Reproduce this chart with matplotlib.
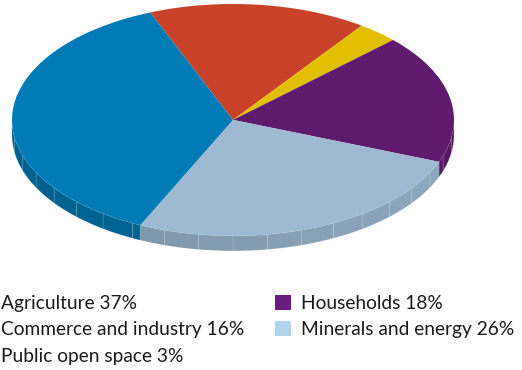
import numpy as np
import matplotlib.pyplot as plt
import matplotlib.patches as mpatches
from matplotlib.colors import to_rgb

plt.rcParams['font.family'] = ['Lato', 'DejaVu Sans']

# data, in the order the slices go round the pie (clockwise from the top left)
labels = ['Commerce and industry', 'Public open space', 'Households',
          'Minerals and energy', 'Agriculture']
values = [16, 3, 18, 26, 37]
top_colors = ['#C84128', '#E2C000', '#5F1A6E', '#9DBAD2', '#007BB5']
legend_colors = ['#C84128', '#E2C000', '#6A1C7E', '#B0D4EE', '#007BB5']
legend_order = ['Agriculture', 'Commerce and industry', 'Public open space',
                'Households', 'Minerals and energy']

start_angle = 112  # degrees, where the first slice starts
depth = 0.13       # thickness of the pie in y units

fig = plt.figure(figsize=(5.22, 3.70), dpi=100)
ax = fig.add_axes([12 / 522, 111 / 370, 442 / 522, 255 / 370])

# side wall first, so the top sits over it
def shade(c, f):
    r, g, b = to_rgb(c)
    return (r * f, g * f, b * f)

bounds = start_angle - np.cumsum([0] + values) * 3.6
step = 9
for i in range(len(values)):
    hi, lo = bounds[i], bounds[i + 1]
    # the front half only: angles between 180 and 360 (i.e. -180..0)
    for off in (0, -360, 360):
        a0, a1 = max(lo + off, -180), min(hi + off, 0)
        if a1 <= a0:
            continue
        edges = np.arange(np.ceil(a0 / step) * step, a1, step)
        edges = np.unique(np.concatenate([[a0], edges, [a1]]))
        for s0, s1 in zip(edges[:-1], edges[1:]):
            t = np.radians(np.linspace(s0, s1, 6))
            xs = np.cos(t)
            ys = np.sin(t)
            px = np.concatenate([xs, xs[::-1]])
            py = np.concatenate([ys, ys[::-1] - depth])
            mid = np.radians((s0 + s1) / 2)
            f = 0.84 + 0.06 * np.cos(mid)
            ax.add_patch(mpatches.Polygon(np.column_stack([px, py]),
                                          closed=True, facecolor=shade(top_colors[i], f),
                                          edgecolor=(1, 1, 1, 0.15), linewidth=0.5,
                                          zorder=1))

wedges, _ = ax.pie(values, colors=top_colors, startangle=start_angle,
                   counterclock=False, radius=1,
                   wedgeprops=dict(linewidth=0))
for w in wedges:
    w.set_zorder(2)

ax.set_aspect('auto')
ax.set_xlim(-1, 1)
ax.set_ylim(-1.2, 1)
ax.axis('off')

handles = [mpatches.Patch(facecolor=legend_colors[labels.index(n)], edgecolor='none')
           for n in legend_order]
texts = ['%s %d%%' % (n, values[labels.index(n)]) for n in legend_order]
fig.legend(handles, texts, ncol=2, loc='upper left',
           bbox_to_anchor=(-25 / 522, 1 - 295 / 370), frameon=False,
           fontsize=13.8, handlelength=0.83, handleheight=0.83,
           handletextpad=0.52, columnspacing=1.6, labelspacing=0.47,
           borderpad=0, borderaxespad=0, labelcolor='#1a1a1a')

fig.savefig('out.png', dpi=100)
